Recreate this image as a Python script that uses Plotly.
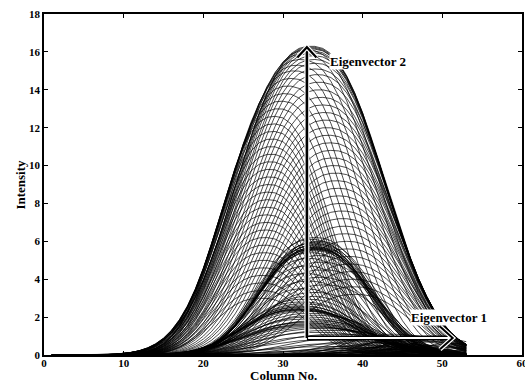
import numpy as np
import plotly.graph_objects as go

# ---------------- data ----------------
COLUMNS = list(range(1, 54))          # column numbers 1..53
SHAPE_P = 2.4                          # peak shape exponent

# upper family, left track: peak height, peak column, half-width
L_HEIGHTS = [3.0, 3.4, 3.8, 4.2, 4.6, 5.0, 5.4, 5.8, 6.2, 6.6, 7.0, 7.4, 7.8, 8.2, 8.6, 9.0,
             9.4, 9.8, 10.2, 10.6, 11.0, 11.4, 11.8, 12.2, 12.6, 13.0, 13.4, 13.8, 14.2, 14.6,
             15.0, 15.3, 15.6, 15.9, 16.1]
L_CENTERS = [27.2, 27.3, 27.3, 27.4, 27.5, 27.5, 27.6, 27.7, 27.7, 27.8, 27.9, 27.9, 28.0, 28.1,
             28.1, 28.2, 28.3, 28.3, 28.4, 28.5, 28.5, 28.6, 28.7, 28.8, 28.9, 29.4, 29.8, 30.2,
             30.6, 31.0, 31.4, 31.8, 32.2, 32.6, 33.0]
L_WIDTHS = [7.6, 7.6, 7.7, 7.7, 7.8, 7.8, 7.9, 7.9, 8.0, 8.0, 8.1, 8.1, 8.2, 8.2, 8.3, 8.3, 8.4,
            8.4, 8.5, 8.5, 8.6, 8.6, 8.7, 8.7, 8.8, 9.2, 9.5, 9.8, 10.0, 10.3, 10.6, 10.8, 11.1,
            11.3, 11.5]

# upper family, right track
R_HEIGHTS = [3.2, 3.6, 4.0, 4.4, 4.8, 5.2, 5.6, 6.0, 6.4, 6.8, 7.2, 7.6, 8.0, 8.4, 8.8, 9.2,
             9.6, 10.0, 10.4, 10.8, 11.2, 11.6, 12.0, 12.4, 12.8, 13.2, 13.6, 14.0, 14.4, 14.8,
             15.1, 15.4, 15.6, 15.8, 15.95, 16.05, 16.15, 16.2, 16.25, 16.3]
R_CENTERS = [39.0, 38.9, 38.7, 38.6, 38.4, 38.3, 38.1, 38.0, 37.8, 37.7, 37.5, 37.4, 37.2, 37.0,
             36.9, 36.7, 36.6, 36.4, 36.2, 36.1, 35.9, 35.7, 35.5, 35.4, 35.2, 35.0, 34.8, 34.6,
             34.5, 34.3, 34.1, 34.0, 33.9, 33.8, 33.7, 33.6, 33.6, 33.5, 33.5, 33.5]
R_WIDTHS = [9.0, 9.1, 9.2, 9.3, 9.4, 9.5, 9.5, 9.6, 9.7, 9.8, 9.9, 10.0, 10.0, 10.1, 10.2, 10.3,
            10.3, 10.4, 10.5, 10.6, 10.7, 10.8, 10.9, 11.0, 11.0, 11.1, 11.2, 11.2, 11.3, 11.4,
            11.4, 11.5, 11.5, 11.6, 11.6, 11.6, 11.7, 11.7, 11.7, 11.7]

# dense lower family
B_HEIGHTS = [6.2, 6.1, 6.0, 5.95, 5.9, 5.85, 5.8, 5.75, 5.7, 5.68, 5.65, 5.62, 5.6, 5.58, 5.55,
             5.5, 5.4, 5.25, 5.1, 4.9, 4.7, 4.5, 4.3, 4.1, 3.9, 3.7, 3.5, 3.3, 3.1, 2.95, 2.8,
             2.7, 2.6, 2.55, 2.5, 2.45, 2.42, 2.4, 2.38, 2.35, 2.3, 2.2, 2.1, 2.0, 1.9, 1.8, 1.75,
             1.7, 1.65, 1.6, 1.55, 1.5, 1.45, 1.4, 1.3, 1.2, 1.1, 1.0, 0.9, 0.8, 0.7, 0.6, 0.5,
             0.45, 0.4, 0.35, 0.3, 0.25, 0.2, 0.15]
B_CENTERS = [34.0, 33.6, 34.4, 34.1, 33.8, 34.3, 34.0, 33.7, 34.2, 34.0, 33.9, 34.1, 34.0, 33.8,
             34.2, 34.0, 33.5, 34.5, 33.2, 34.8, 33.0, 35.0, 32.8, 34.6, 33.2, 35.2, 32.6, 34.0,
             33.4, 32.8, 32.4, 32.6, 32.2, 32.5, 32.0, 32.3, 32.1, 32.4, 32.0, 32.6, 33.0, 33.5,
             34.0, 33.2, 33.0, 34.0, 33.5, 32.8, 33.6, 33.2, 33.0, 33.4, 34.2, 35.0, 36.0, 34.5,
             37.0, 35.5, 38.0, 36.0, 39.0, 37.0, 40.0, 36.5, 41.0, 38.5, 42.0, 37.5, 43.0, 39.5]
B_WIDTHS = [9.0, 8.8, 9.2, 9.0, 8.9, 9.1, 9.0, 8.8, 9.2, 9.0, 8.9, 9.1, 9.0, 8.8, 9.2, 9.0, 8.7,
            9.3, 8.6, 9.5, 8.5, 9.6, 8.6, 9.4, 8.8, 9.6, 8.5, 9.2, 9.0, 9.5, 9.3, 9.4, 9.2, 9.5,
            9.0, 9.4, 9.1, 9.6, 9.2, 9.8, 10.0, 10.2, 10.5, 10.0, 10.5, 10.8, 10.6, 10.2, 10.9,
            10.4, 10.3, 10.7, 11.0, 11.2, 11.5, 10.8, 11.0, 11.5, 10.0, 12.0, 9.5, 11.0, 9.0,
            12.0, 8.5, 10.5, 8.0, 11.5, 7.5, 10.0]

# low, right-shifted profiles (bottom-right wedge)
C_HEIGHTS = [1.1, 1.0, 0.95, 0.9, 0.85, 0.8, 0.75, 0.7, 0.65, 0.6, 0.55, 0.5, 0.45, 0.4, 0.35,
             0.3, 0.28, 0.25, 0.2, 0.15]
C_CENTERS = [44, 46, 48, 42, 50, 45, 47, 49, 43, 51, 46, 48, 44, 50, 47, 45, 49, 43, 48, 46]
C_WIDTHS = [7.5, 7.0, 6.5, 8.0, 6.0, 7.5, 7.0, 6.5, 8.0, 5.5, 7.5, 7.0, 8.0, 6.0, 7.0, 7.5, 6.5,
            8.0, 6.5, 7.0]

X_TICKS = [0, 10, 20, 30, 40, 50, 60]
Y_TICKS = [0, 2, 4, 6, 8, 10, 12, 14, 16, 18]

# eigenvector arrows (annotation geometry, data units)
ARROW_ORIGIN = (33.0, 0.9)
EV2_TIP_Y = 16.25
EV1_TIP_X = 51.3

# ---------------- build curves ----------------
x = np.array(COLUMNS, dtype=float)
xs, ys = [], []
for H, C, W in ((L_HEIGHTS, L_CENTERS, L_WIDTHS),
                (R_HEIGHTS, R_CENTERS, R_WIDTHS),
                (B_HEIGHTS, B_CENTERS, B_WIDTHS),
                (C_HEIGHTS, C_CENTERS, C_WIDTHS)):
    for h, c, w in zip(H, C, W):
        y = h * np.exp(-(np.abs(x - c) / w) ** SHAPE_P)
        xs += list(x) + [None]
        ys += list(y) + [None]

FONT = "Liberation Serif, Times New Roman, serif"

fig = go.Figure()
fig.add_trace(go.Scatter(x=xs, y=ys, mode="lines",
                         line=dict(color="black", width=0.7),
                         hoverinfo="skip", showlegend=False))

ox, oy = ARROW_ORIGIN
shapes = []
# vertical arrow (Eigenvector 2): black with white halo
shapes.append(dict(type="line", x0=ox, y0=oy, x1=ox, y1=EV2_TIP_Y, xref="x", yref="y",
                   line=dict(color="white", width=5)))
shapes.append(dict(type="line", x0=ox, y0=oy, x1=ox, y1=EV2_TIP_Y, xref="x", yref="y",
                   line=dict(color="black", width=2.6)))
v_head = f"M {ox-1.2},{EV2_TIP_Y-0.55} L {ox},{EV2_TIP_Y} L {ox+1.2},{EV2_TIP_Y-0.55}"
shapes.append(dict(type="path", path=v_head, xref="x", yref="y",
                   line=dict(color="white", width=4.5)))
shapes.append(dict(type="path", path=v_head, xref="x", yref="y",
                   line=dict(color="black", width=2.2)))
# horizontal arrow (Eigenvector 1): white with black outline
shapes.append(dict(type="line", x0=ox, y0=oy, x1=EV1_TIP_X, y1=oy, xref="x", yref="y",
                   line=dict(color="black", width=5)))
shapes.append(dict(type="line", x0=ox + 0.15, y0=oy, x1=EV1_TIP_X - 0.1, y1=oy, xref="x", yref="y",
                   line=dict(color="white", width=2)))
h_head = f"M {EV1_TIP_X-1.6},{oy+0.6} L {EV1_TIP_X},{oy} L {EV1_TIP_X-1.6},{oy-0.6}"
shapes.append(dict(type="path", path=h_head, xref="x", yref="y",
                   line=dict(color="white", width=4.5)))
shapes.append(dict(type="path", path=h_head, xref="x", yref="y",
                   line=dict(color="black", width=2)))

annotations = [
    dict(x=ox + 2.8, y=15.5, xref="x", yref="y", text="<b>Eigenvector 2</b>", showarrow=False,
         xanchor="left", yanchor="middle", bgcolor="white", borderpad=0,
         font=dict(family=FONT, size=13, color="black")),
    dict(x=45.9, y=2.0, xref="x", yref="y", text="<b>Eigenvector 1</b>", showarrow=False,
         xanchor="left", yanchor="middle", bgcolor="white", borderpad=0,
         font=dict(family=FONT, size=13, color="black")),
    dict(x=-0.050, y=0.5, xref="paper", yref="paper", text="<b>Intensity</b>", showarrow=False,
         textangle=-90, xanchor="center", yanchor="middle",
         font=dict(family=FONT, size=13, color="black")),
    dict(x=0.5, y=-0.088, xref="paper", yref="paper", text="<b>Column No.</b>", showarrow=False,
         xanchor="center", yanchor="bottom",
         font=dict(family=FONT, size=13, color="black")),
]

axis_common = dict(showgrid=False, zeroline=False, showline=True, linecolor="black",
                   linewidth=1.5, mirror="ticks", ticks="inside", ticklen=4, tickwidth=1.2,
                   tickcolor="black", ticklabeloverflow="allow", automargin=False,
                   tickfont=dict(family=FONT, size=11, color="black"))

fig.update_layout(
    width=525, height=385,
    margin=dict(l=44, r=3, t=14, b=30, autoexpand=False),
    paper_bgcolor="white", plot_bgcolor="white",
    xaxis=dict(range=[0, 60], tickvals=X_TICKS, ticktext=[f"<b>{v}</b>" for v in X_TICKS],
               ticklabelstandoff=-3, **axis_common),
    yaxis=dict(range=[0, 18], tickvals=Y_TICKS, ticktext=[f"<b>{v}</b>" for v in Y_TICKS],
               **axis_common),
    shapes=shapes, annotations=annotations, showlegend=False,
)

fig.write_html("out.html")
